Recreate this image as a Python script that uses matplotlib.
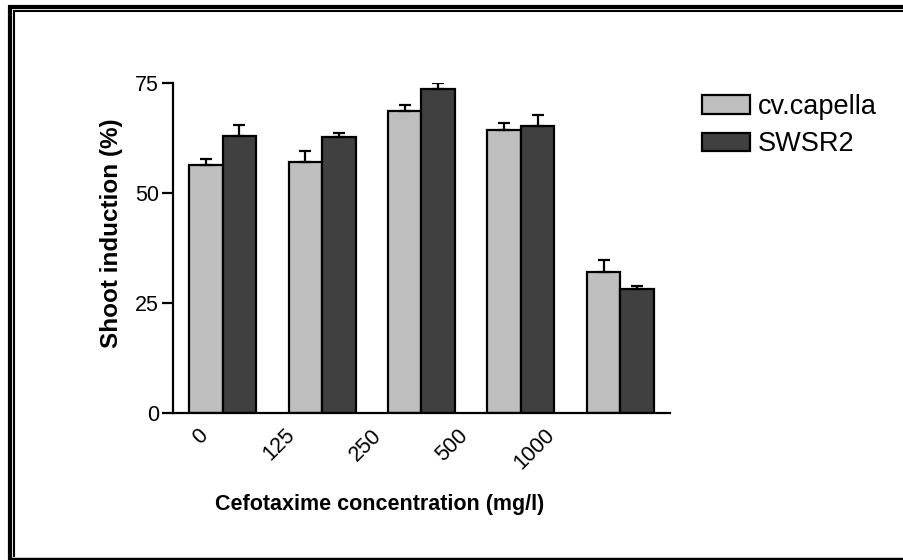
import numpy as np
import matplotlib.pyplot as plt
import matplotlib.transforms as mtransforms
from matplotlib.lines import Line2D

plt.rcParams['font.family'] = ['Liberation Sans', 'DejaVu Sans']

concentrations = ['0', '125', '250', '500', '1000']
capella_mean = [56.2, 57.0, 68.6, 64.2, 32.0]
capella_err = [1.5, 2.5, 1.3, 1.7, 2.7]
swsr2_mean = [63.0, 62.7, 73.6, 65.2, 28.1]
swsr2_err = [2.4, 0.9, 1.4, 2.5, 0.8]

W, H = 904, 560
fig = plt.figure(figsize=(W / 100, H / 100), dpi=100)
ax = fig.add_axes([173 / W, 1 - 412.7 / H, 497 / W, 330 / H])

x = np.arange(len(concentrations))
bw = 0.337
err_kw = dict(ecolor='black', elinewidth=1.6, capsize=4.6, capthick=1.6)
ax.bar(x - bw / 2, capella_mean, bw, color='#bebebe', edgecolor='black',
       linewidth=1.6, label='cv.capella',
       yerr=[np.zeros(5), capella_err], error_kw=err_kw, zorder=2)
ax.bar(x + bw / 2, swsr2_mean, bw, color='#404040', edgecolor='black',
       linewidth=1.6, label='SWSR2',
       yerr=[np.zeros(5), swsr2_err], error_kw=err_kw, zorder=2)

ax.set_xlim(-0.5, 4.5)
ax.set_ylim(0, 75)
ax.set_yticks([0, 25, 50, 75])
ax.set_xticks(x)
ax.set_xticklabels(concentrations)
ax.tick_params(axis='y', direction='out', length=8, width=1.6, labelsize=15.5, pad=2)
ax.tick_params(axis='x', length=0, labelsize=15.5, pad=0)

# rotated tick labels sit left of their ticks, drifting further left to the right
for i, lab in enumerate(ax.get_xticklabels()):
    lab.set_rotation(45)
    lab.set_rotation_mode('anchor')
    lab.set_ha('right')
    lab.set_va('center')
    dx = -(18 + 12.75 * i) / 100
    dy = -19.5 / 100
    lab.set_transform(lab.get_transform() +
                      mtransforms.ScaledTranslation(dx, dy, fig.dpi_scale_trans))

for s in ['top', 'right']:
    ax.spines[s].set_visible(False)
for s in ['left', 'bottom']:
    ax.spines[s].set_linewidth(1.6)

ax.set_ylabel('Shoot induction (%)', fontsize=17.5, fontweight='bold')
ax.yaxis.set_label_coords(-0.1006, 0.5445)
ax.set_xlabel('Cefotaxime concentration (mg/l)', fontsize=15.5, fontweight='bold')
ax.xaxis.set_label_coords(0.4165, -0.246)

leg = ax.legend(loc='upper left', bbox_to_anchor=(702 / W, 1 - 94 / H),
                bbox_transform=fig.transFigure, frameon=False, fontsize=19.5,
                handlelength=1.77, handleheight=0.65, handletextpad=0.28,
                labelspacing=0.42, borderpad=0, borderaxespad=0)
for p in leg.get_patches():
    p.set_linewidth(1.6)

# double frame around the figure (cut off at right and bottom)
def px_line(xs, ys, lw):
    fig.add_artist(Line2D([v / W for v in xs], [1 - v / H for v in ys],
                          transform=fig.transFigure, color='black', linewidth=lw,
                          solid_capstyle='butt'))

px_line([10, 10], [5, 560], 3.0)
px_line([8, 904], [7, 7], 3.0)
px_line([14, 14], [10, 557], 1.5)
px_line([13, 904], [11, 11], 1.5)
px_line([8, 904], [558.5, 558.5], 2.5)

fig.savefig('out.png', dpi=100)
